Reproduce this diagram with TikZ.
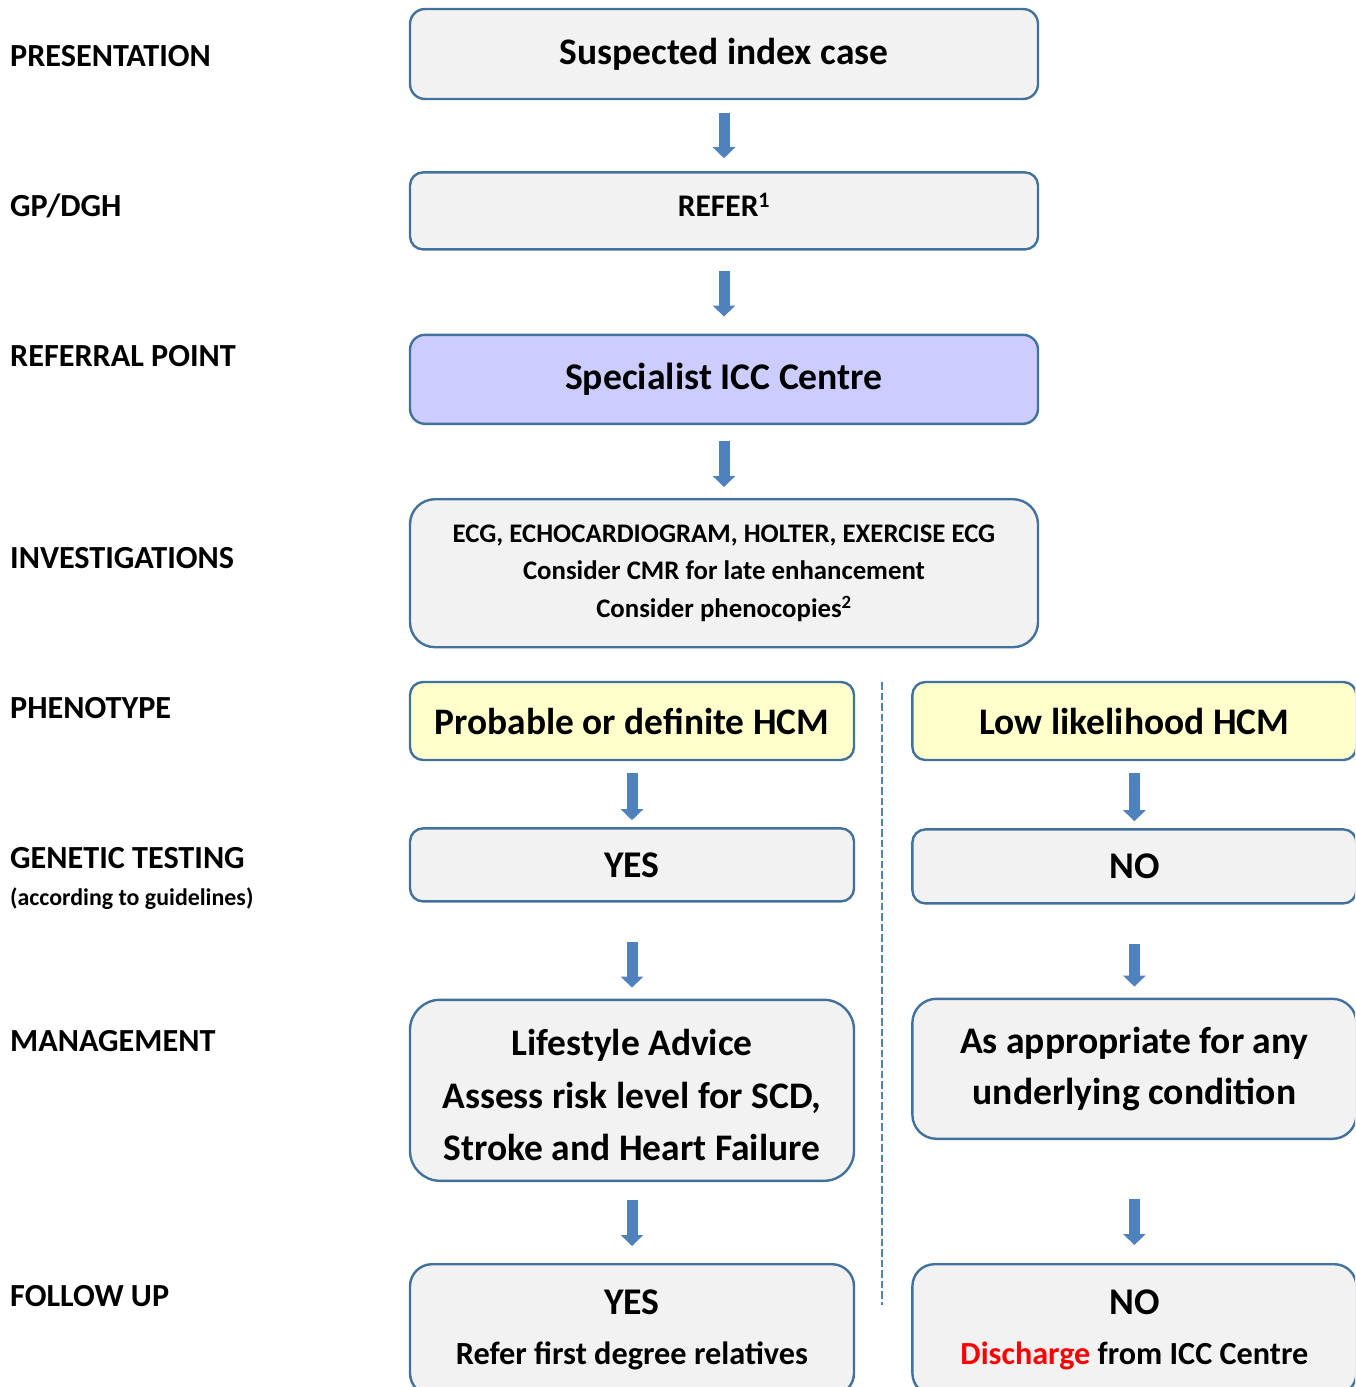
\documentclass[tikz,border=0pt]{standalone}
\usepackage{fontspec}
\setmainfont{Carlito}
\usetikzlibrary{positioning,arrows.meta}

\definecolor{boxgrey}{HTML}{F2F2F2}
\definecolor{boxline}{HTML}{41719C}
\definecolor{boxblue}{HTML}{CCCCFF}
\definecolor{boxyellow}{HTML}{FFFFCC}
\definecolor{arrowblue}{HTML}{4F81BD}

\begin{document}
\begin{tikzpicture}[x=1pt, y=1pt]
  \tikzstyle{process} = [rectangle, rounded corners=15pt, minimum width=628pt, align=center, draw=boxline, line width=2.4pt, fill=boxgrey, inner sep=0pt]
  \tikzstyle{halfbox} = [process, minimum width=444pt]
  \tikzstyle{stage} = [anchor=base west, inner sep=0pt, font=\bfseries\fontsize{32.2}{38}\selectfont]
  \tikzstyle{flow} = [line width=11pt, draw=arrowblue, -{Triangle[width=22pt,length=11pt]}]
  \tikzstyle{divider} = [draw=arrowblue, line width=2.2pt, dash pattern=on 7.5pt off 3pt]
  \useasboundingbox (0,0) rectangle (1355,-1387);
  \clip (0,0) rectangle (1355,-1387);
  % stage labels
  \node (pres) [stage] at (10,-66.5) {PRESENTATION};
  \node (gp) [stage] at (10,-216.5) {GP/DGH};
  \node (refpt) [stage] at (10,-366) {REFERRAL POINT};
  \node (invest) [stage] at (10,-568) {INVESTIGATIONS};
  \node (pheno) [stage] at (10,-718) {PHENOTYPE};
  \node (gen) [stage] at (10,-868) {GENETIC TESTING};
  \node (guide) [stage, font=\bfseries\fontsize{23.9}{28}\selectfont] at (10,-905) {(according to guidelines)};
  \node (mgmt) [stage] at (10,-1051) {MANAGEMENT};
  \node (fup) [stage] at (10,-1306) {FOLLOW UP};
  % main column
  \node (susp) [process, minimum height=90pt, font=\bfseries\fontsize{37.5}{44}\selectfont] at (724,-54) {Suspected index case};
  \node (refer) [process, minimum height=77pt, rounded corners=13pt, below=71pt of susp, text height=21pt, text depth=9pt, font=\bfseries\fontsize{31.5}{38}\selectfont] {REFER\textsuperscript{1}};
  \node (icc) [process, minimum height=89pt, fill=boxblue, below=83pt of refer, font=\bfseries\fontsize{37.7}{44}\selectfont] {Specialist ICC Centre};
  \node (inv) [process, minimum height=148pt, rounded corners=25pt, below=73pt of icc, font=\bfseries\fontsize{26.8}{37.5}\selectfont] {ECG, ECHOCARDIOGRAM, HOLTER, EXERCISE ECG\\Consider CMR for late enhancement\\Consider phenocopies\textsuperscript{2}};
  % left branch
  \node (prob) [halfbox, minimum height=78pt, rounded corners=13pt, fill=boxyellow, font=\bfseries\fontsize{37.4}{44}\selectfont] at (632,-721) {Probable or definite HCM};
  \node (yes) [halfbox, minimum height=73pt, rounded corners=13pt, below=66pt of prob, font=\bfseries\fontsize{37.7}{44}\selectfont] {YES};
  \node (life) [halfbox, minimum height=181pt, rounded corners=30pt, below=96pt of yes, font=\bfseries\fontsize{37.5}{52.5}\selectfont] {\rule{0pt}{36pt}Lifestyle Advice\\Assess risk level for SCD,\\Stroke and Heart Failure};
  \node (fupyes) [halfbox, minimum height=131pt, rounded corners=22pt, below=81pt of life, font=\bfseries\fontsize{37.7}{50}\selectfont] {YES\\{\fontsize{32.3}{50}\selectfont Refer first degree relatives}};
  % right branch
  \node (low) [halfbox, minimum height=78pt, rounded corners=13pt, fill=boxyellow, right=56pt of prob, font=\bfseries\fontsize{37.5}{44}\selectfont] {Low likelihood HCM};
  \node (no) [halfbox, minimum height=74pt, rounded corners=13pt, below=67pt of low, font=\bfseries\fontsize{37.7}{44}\selectfont] {NO};
  \node (approp) [halfbox, minimum height=140pt, rounded corners=24pt, below=93pt of no, font=\bfseries\fontsize{37.6}{51}\selectfont] {As appropriate for any\\underlying condition};
  \node (fupno) [halfbox, minimum height=131pt, rounded corners=22pt, below=123pt of approp, font=\bfseries\fontsize{37.7}{50}\selectfont] {NO\\{\fontsize{32.2}{50}\selectfont\textcolor{red}{Discharge} from ICC Centre}};
  % divider
  \coordinate (dtop) at (882,-682);
  \coordinate (dbot) at (882,-1305);
  \draw [divider] (dtop) -- (dbot);
  % arrows
  \draw [flow, shorten <=13pt, shorten >=13pt] (susp.south) -- (refer.north);
  \draw [flow, shorten <=20pt, shorten >=17pt] (refer.south) -- (icc.north);
  \draw [flow, shorten <=16pt, shorten >=11pt] (icc.south) -- (inv.north);
  \draw [flow, shorten <=12pt, shorten >=7pt] (prob.south) -- (yes.north);
  \draw [flow, shorten <=39pt, shorten >=11pt] (yes.south) -- (life.north);
  \draw [flow, shorten <=18pt, shorten >=17pt] (life.south) -- (fupyes.north);
  \draw [flow, shorten <=12pt, shorten >=7pt] (low.south) -- (no.north);
  \draw [flow, shorten <=39pt, shorten >=11pt] (no.south) -- (approp.north);
  \draw [flow, shorten <=59pt, shorten >=18pt] (approp.south) -- (fupno.north);
\end{tikzpicture}
\end{document}
